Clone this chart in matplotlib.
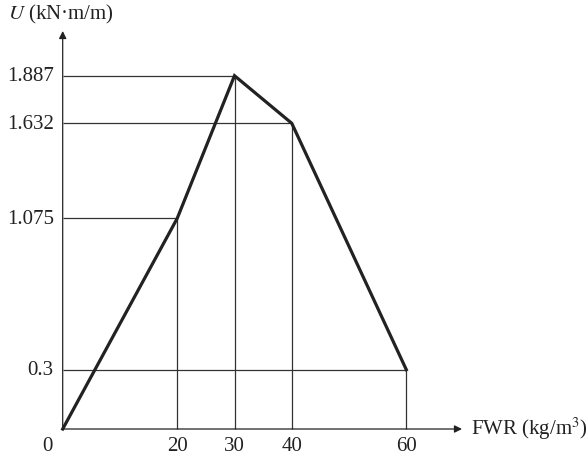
import numpy as np
import matplotlib
matplotlib.use("Agg")
import matplotlib.pyplot as plt

# Data
fwr = [0, 20, 30, 40, 60]
energy = [0, 1.075, 1.887, 1.632, 0.3]
x_tick_labels = ["0", "20", "30", "40", "60"]
y_tick_labels = ["0.3", "1.075", "1.887", "1.632"]
y_tick_values = [0.3, 1.075, 1.887, 1.632]

# Non-uniform (schematic) vertical scale as drawn in the reference
scale_vals = [-0.2, 0.0, 0.3, 1.075, 1.632, 1.887, 2.5]
scale_pos = [-39.6, 0.0, 59.3, 210.7, 305.7, 353.3, 468.1]

def fwd(v):
    return np.interp(v, scale_vals, scale_pos)

def inv(p):
    return np.interp(p, scale_pos, scale_vals)

plt.rcParams['font.family'] = ['Liberation Serif', 'DejaVu Serif']
plt.rcParams['mathtext.fontset'] = 'stix'
W, H = 587, 460
fig = plt.figure(figsize=(W / 100, H / 100), dpi=100)
ax = fig.add_axes([0, 0, 1, 1])
ax.set_yscale('function', functions=(fwd, inv))

x0px, xs = 62.7, 5.727
oy = 430.0
ax.set_xlim(-x0px / xs, (W - x0px) / xs)
ax.set_ylim(inv(-(H - oy)), inv(oy))
ax.axis('off')

thin = dict(color='#333333', lw=0.9)
# reference lines
for x, y in zip(fwr[1:], energy[1:]):
    ax.plot([0, x], [y, y], **thin, solid_capstyle='butt')
    ax.plot([x, x], [0, y], **thin, solid_capstyle='butt')

# axes with arrows
ax.annotate('', xy=(0, inv(398)), xytext=(0, 0),
            arrowprops=dict(arrowstyle='-|>', color='#222222', lw=0.9,
                            mutation_scale=11, shrinkA=0, shrinkB=0))
ax.annotate('', xy=((462 - x0px) / xs, 0), xytext=(0, 0),
            arrowprops=dict(arrowstyle='-|>', color='#222222', lw=0.9,
                            mutation_scale=11, shrinkA=0, shrinkB=0))

# main curve
ax.plot(fwr, energy, color='#222222', lw=2.3, solid_joinstyle='miter', zorder=5)

fs = 15
for v, lab in zip(y_tick_values, y_tick_labels):
    ax.annotate(lab, xy=(0, v), xytext=(-9, 0), textcoords='offset pixels',
                ha='right', va='center', fontsize=fs, color='#222222')
for x, lab in zip(fwr, x_tick_labels):
    dx = -15 if x == 0 else 0
    ax.annotate(lab, xy=(x, 0), xytext=(dx, -17), textcoords='offset pixels',
                ha='center', va='center', fontsize=fs, color='#222222')

ax.annotate('FWR (kg/m$^{3}$)', xy=(0, 0), xytext=(471 - x0px, 1), textcoords='offset pixels',
            ha='left', va='center', fontsize=fs, color='#222222')
fig.text(8 / W, 1 - 14 / H, r'$\mathit{U}$ (kN·m/m)', ha='left', va='center',
         fontsize=fs, color='#222222')

fig.savefig('out.png', dpi=100)
